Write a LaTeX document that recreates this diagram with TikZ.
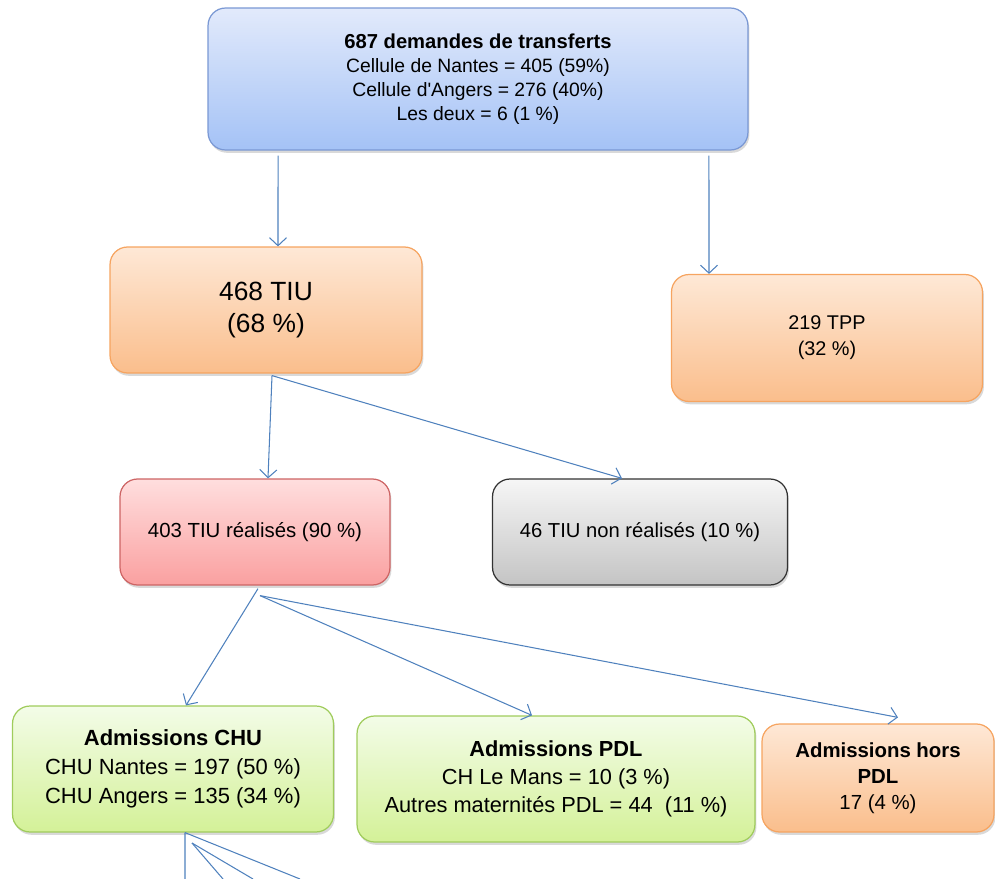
\documentclass[tikz,border=0pt]{standalone}
\usepackage{fontspec}
\setmainfont{Liberation Sans}
\usetikzlibrary{shapes.geometric, arrows.meta, calc, positioning, shadows}

\definecolor{bluetop}{RGB}{226,234,251}
\definecolor{bluebot}{RGB}{164,194,246}
\definecolor{blueline}{RGB}{122,152,212}
\definecolor{orangetop}{RGB}{254,232,214}
\definecolor{orangebot}{RGB}{250,190,140}
\definecolor{orangeline}{RGB}{246,164,96}
\definecolor{pinktop}{RGB}{255,222,222}
\definecolor{pinkbot}{RGB}{250,160,160}
\definecolor{pinkline}{RGB}{205,100,100}
\definecolor{graytop}{RGB}{246,246,246}
\definecolor{graybot}{RGB}{196,196,196}
\definecolor{greentop}{RGB}{243,252,232}
\definecolor{greenbot}{RGB}{212,241,152}
\definecolor{greenline}{RGB}{160,204,92}
\definecolor{arrowblue}{RGB}{79,129,189}

\begin{document}
\begin{tikzpicture}[x=0.02cm, y=-0.02cm]
            \tikzstyle{box} = [rectangle, rounded corners=0.35cm, draw, line width=0.7pt,
                               align=center, inner sep=2pt,
                               drop shadow={opacity=0.3, shadow xshift=0.8pt, shadow yshift=-1.6pt}]
            \tikzstyle{orangebox} = [box, top color=orangetop, bottom color=orangebot, draw=orangeline]
            \tikzstyle{greenbox} = [box, top color=greentop, bottom color=greenbot, draw=greenline]
            \tikzstyle{flow} = [-{Straight Barb[length=1.6mm, width=3.4mm]}, line width=0.6pt, arrowblue]
            \tikzstyle{line} = [line width=0.6pt, arrowblue]

            \useasboundingbox (0,0) rectangle (995,879);

            \node (demandes) [box, top color=bluetop, bottom color=bluebot, draw=blueline,
                              minimum width=10.8cm, minimum height=2.84cm,
                              font=\fontsize{11}{13.6}\selectfont] at (478,79)
                  {{\bfseries\fontsize{11.5}{13.6}\selectfont 687 demandes de transferts}\\
                   Cellule de Nantes = 405 (59\%)\\
                   Cellule d\textquotesingle Angers = 276 (40\%)\\
                   Les deux = 6 (1 \%)};
            \node (tiu) [orangebox, minimum width=6.24cm, minimum height=2.52cm,
                         font=\fontsize{15}{18.2}\selectfont] at (266,310) {468 TIU\\(68 \%)};
            \node (tpp) [orangebox, minimum width=6.22cm, minimum height=2.54cm,
                         font=\fontsize{11.3}{14.7}\selectfont] at (827,338) {219 TPP\\(32 \%)};
            \node (realises) [box, top color=pinktop, bottom color=pinkbot, draw=pinkline,
                              minimum width=5.4cm, minimum height=2.12cm,
                              font=\fontsize{11.6}{14}\selectfont] at (255,532) {403 TIU réalisés (90 \%)};
            \node (nonrealises) [box, top color=graytop, bottom color=graybot, draw=black!80,
                                 minimum width=5.9cm, minimum height=2.12cm,
                                 font=\fontsize{11.5}{14}\selectfont] at (640,532) {46 TIU non réalisés (10 \%)};
            \node (chu) [greenbox, minimum width=6.42cm, minimum height=2.52cm,
                         font=\fontsize{12.5}{16.4}\selectfont] at (173,769)
                  {{\bfseries Admissions CHU}\\CHU Nantes = 197 (50 \%)\\CHU Angers = 135 (34 \%)};
            \node (pdl) [greenbox, minimum width=7.96cm, minimum height=2.52cm,
                         font=\fontsize{12.4}{15.9}\selectfont] at (556,779)
                  {{\bfseries Admissions PDL}\\CH Le Mans = 10 (3 \%)\\Autres maternités PDL = 44~~(11 \%)};
            \node (hors) [orangebox, minimum width=4.64cm, minimum height=2.16cm,
                          font=\fontsize{11.6}{14.7}\selectfont] at (878,778)
                  {{\bfseries Admissions hors}\\{\bfseries PDL}\\17 (4 \%)};

            % fan of lines leaving the bottom of the picture
            \coordinate (fan) at (192,843);
            \coordinate (out1) at (185,879);
            \coordinate (out2) at (300,879);
            \coordinate (out3) at (223,879);
            \coordinate (out4) at (253,879);

            \draw [flow] ([xshift=-4cm, yshift=-0.1cm]demandes.south) -- ([xshift=0.24cm]tiu.north);
            \draw [flow] ([xshift=4.62cm, yshift=-0.1cm]demandes.south) -- ([xshift=-2.36cm]tpp.north);
            \draw [flow] ([xshift=0.12cm, yshift=-0.04cm]tiu.south) -- ([xshift=0.26cm]realises.north);
            \draw [flow] ([xshift=0.12cm, yshift=-0.04cm]tiu.south) -- ([xshift=-0.36cm]nonrealises.north);
            \draw [flow] ([xshift=0.06cm, yshift=-0.06cm]realises.south) -- ([xshift=0.26cm]chu.north);
            \draw [flow] ([xshift=0.1cm, yshift=-0.2cm]realises.south) -- ([xshift=-0.48cm]pdl.north);
            \draw [flow] ([xshift=0.1cm, yshift=-0.2cm]realises.south) -- ([xshift=0.4cm, yshift=0.12cm]hors.north);
            \draw [line] ([xshift=0.24cm]chu.south) -- (out1);
            \draw [line] ([xshift=0.24cm]chu.south) -- (out2);
            \draw [line] (fan) -- (out3);
            \draw [line] (fan) -- (out4);
        \end{tikzpicture}
\end{document}
